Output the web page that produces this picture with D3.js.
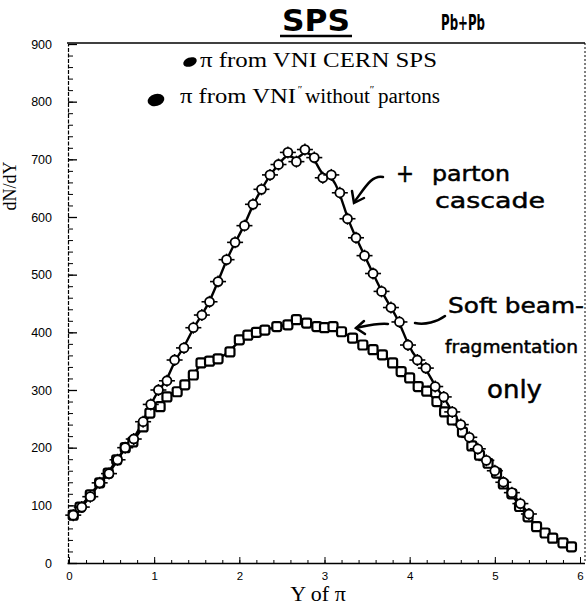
<!DOCTYPE html>
<html>
<head>
<meta charset="utf-8">
<script src="https://cdn.jsdelivr.net/npm/d3@7"></script>
<style>
body { margin: 0; background: #fff; }
</style>
</head>
<body>
<svg id="chart" width="588" height="614"></svg>
<script>

// "pi from VNI CERN SPS" (with parton cascade), open circles
const rapPartons = [0.05,0.15,0.25,0.36,0.47,0.57,0.66,0.76,0.87,0.96,1.05,1.15,1.24,1.35,1.46,1.56,1.65,1.75,1.85,1.95,
    2.06,2.16,2.26,2.36,2.46,2.57,2.67,2.77,2.88,2.98,3.08,3.18,3.27,3.37,3.47,3.57,3.67,3.78,3.88,3.98,
    4.09,4.19,4.30,4.40,4.50,4.60,4.70,4.80,4.90,5.00,5.10,5.20,5.30,5.40];
const dndyPartons = [83,97,115,139,155,179,200,215,245,275,300,316,352,373,408,430,453,488,526,556,
    585,622,648,673,691,712,696,717,703,668,673,642,597,564,533,502,471,443,418,378,
    352,338,306,288,262,240,218,198,178,160,140,122,103,85];

// "pi from VNI without partons" (soft beam fragmentation only), open squares
const rapSoft = [0.05,0.13,0.25,0.36,0.46,0.56,0.66,0.75,0.87,0.95,1.07,1.15,1.27,1.36,1.46,1.55,1.65,1.75,1.89,2.00,
    2.10,2.20,2.30,2.44,2.57,2.67,2.79,2.91,3.00,3.10,3.20,3.33,3.45,3.57,3.68,3.80,3.90,4.00,4.10,4.20,
    4.32,4.41,4.50,4.62,4.73,4.82,4.92,5.02,5.10,5.20,5.29,5.39,5.49,5.59,5.68,5.80,5.90];
const dndySoft = [83,97,118,139,156,179,200,210,236,260,271,288,297,309,326,347,350,354,366,387,
    395,400,404,410,413,422,416,410,408,410,401,390,378,370,361,347,332,321,306,298,
    280,262,248,227,203,187,173,156,137,120,98,80,63,52,43,35,28];

const xTicks = [0,1,2,3,4,5,6];
const yTicks = [0,100,200,300,400,500,600,700,800,900];
const legendLabels = ['\u03c0 from VNI CERN SPS', '\u03c0 from VNI', 'without', 'partons'];
const noteCascade = ['+', 'parton', 'cascade'];
const noteSoft = ['Soft beam-', 'fragmentation', 'only'];
const titleParts = ['SPS', 'Pb+Pb'];

const svg = d3.select('#chart');
const x = d3.scaleLinear().domain([0, 6]).range([69, 580]);
const y = d3.scaleLinear().domain([0, 900]).range([563, 44]);

const serif = '"Liberation Serif", "DejaVu Serif", serif';
const sans = '"Liberation Sans", Arial, sans-serif';
const hand = '"DejaVu Sans", sans-serif';

// frame: top line and dotted right edge
svg.append('line').attr('x1', 67).attr('x2', 585).attr('y1', 43).attr('y2', 43)
    .attr('stroke', '#000').attr('stroke-width', 1.5);
svg.append('line').attr('x1', 585).attr('x2', 585).attr('y1', 43).attr('y2', 563)
    .attr('stroke', '#000').attr('stroke-width', 1).attr('stroke-dasharray', '2,2');

// y axis, ticks point into the plot
let yAxis = svg.append('g').attr('transform', 'translate(68,0)')
    .call(d3.axisLeft(y).tickValues(yTicks).tickSizeInner(-9).tickSizeOuter(0).tickPadding(16));
yAxis.select('.domain').attr('stroke-dasharray', '4,1.5').attr('stroke-width', 1.2);
yAxis.selectAll('text').attr('font-family', sans).attr('font-size', 12.5);
yAxis.selectAll('line').attr('stroke-width', 1.3);
svg.append('g').attr('transform', 'translate(68,0)')
    .call(d3.axisLeft(y).tickValues(d3.range(0, 901, 20)).tickSize(-5).tickFormat(''))
    .call(g => g.select('.domain').remove());

// x axis
let xAxis = svg.append('g').attr('transform', 'translate(0,563)')
    .call(d3.axisBottom(x).tickValues(xTicks).tickFormat(d3.format('d'))
        .tickSizeInner(-6).tickSizeOuter(0).tickPadding(9));
xAxis.select('.domain').attr('stroke-width', 1.6).attr('d', 'M67.5,0.5H585');
xAxis.selectAll('text').attr('font-family', sans).attr('font-size', 11.5);
svg.append('g').attr('transform', 'translate(0,563)')
    .call(d3.axisBottom(x).tickValues(d3.range(0, 6.01, 0.2)).tickSize(-3).tickFormat(''))
    .call(g => g.select('.domain').remove());

// axis titles
svg.append('text').attr('transform', 'translate(16,186) rotate(-90)')
    .attr('text-anchor', 'middle').attr('font-family', serif).attr('font-size', 18)
    .text('dN/dY');
svg.append('text').attr('x', 318).attr('y', 601).attr('text-anchor', 'middle')
    .attr('font-family', serif).attr('font-size', 22).text('Y of \u03c0');

// smooth curves through both sets of points
const line = d3.line().curve(d3.curveBasis).x(d => x(d[0])).y(d => y(d[1]));
const partons = d3.zip(rapPartons, dndyPartons);
const soft = d3.zip(rapSoft, dndySoft);

svg.append('path').datum(soft).attr('d', line)
    .attr('fill', 'none').attr('stroke', '#000').attr('stroke-width', 2.4);
svg.append('path').datum(partons).attr('d', line)
    .attr('fill', 'none').attr('stroke', '#000').attr('stroke-width', 2.4);

// squares
svg.append('g').selectAll('rect').data(soft).enter().append('rect')
    .attr('x', d => x(d[0]) - 4.5).attr('y', d => y(d[1]) - 4.5)
    .attr('width', 9).attr('height', 9).attr('rx', 2)
    .attr('fill', '#fff').attr('stroke', '#000').attr('stroke-width', 2.2);

// circles with small error bars
let pts = svg.append('g').selectAll('g').data(partons).enter().append('g')
    .attr('transform', d => `translate(${x(d[0])},${y(d[1])})`);
pts.append('line').attr('x1', -8).attr('x2', 8).attr('stroke', '#000').attr('stroke-width', 1.6);
pts.append('line').attr('y1', -6).attr('y2', 6).attr('stroke', '#000').attr('stroke-width', 1.4);
pts.append('circle').attr('r', 4.5).attr('fill', '#fff').attr('stroke', '#000').attr('stroke-width', 1.8);

// legend
svg.append('ellipse').attr('cx', 190).attr('cy', 62).attr('rx', 7).attr('ry', 4.5)
    .attr('transform', 'rotate(-20,190,62)').attr('fill', '#000');
svg.append('text').attr('x', 200).attr('y', 67).attr('font-family', serif).attr('font-size', 20)
    .attr('textLength', 237).attr('lengthAdjust', 'spacingAndGlyphs').text(legendLabels[0]);

svg.append('ellipse').attr('cx', 156).attr('cy', 100).attr('rx', 8.5).attr('ry', 6)
    .attr('transform', 'rotate(-15,156,100)').attr('fill', '#000');
let leg2 = svg.append('text').attr('y', 103).attr('font-family', serif).attr('font-size', 20);
leg2.append('tspan').attr('x', 180).attr('textLength', 116).attr('lengthAdjust', 'spacingAndGlyphs').text(legendLabels[1]);
leg2.append('tspan').attr('x', 297).attr('dy', -10).attr('font-size', 11).attr('font-style', 'italic').text('\u2033');
leg2.append('tspan').attr('x', 305).attr('dy', 10).attr('textLength', 65).attr('lengthAdjust', 'spacingAndGlyphs').text(legendLabels[2]);
leg2.append('tspan').attr('x', 369).attr('dy', -10).attr('font-size', 11).attr('font-style', 'italic').text('\u2033');
leg2.append('tspan').attr('x', 378).attr('dy', 10).attr('textLength', 62).attr('lengthAdjust', 'spacingAndGlyphs').text(legendLabels[3]);

// handwritten title
svg.append('text').attr('x', 282).attr('y', 31).attr('font-family', hand).attr('font-weight', 'bold')
    .attr('font-size', 30).attr('textLength', 68).attr('lengthAdjust', 'spacingAndGlyphs').text(titleParts[0]);
svg.append('line').attr('x1', 280).attr('x2', 352).attr('y1', 36).attr('y2', 36)
    .attr('stroke', '#000').attr('stroke-width', 2.5);
svg.append('text').attr('x', 441).attr('y', 30).attr('font-family', hand).attr('font-weight', 'bold')
    .attr('font-size', 21).attr('textLength', 44).attr('lengthAdjust', 'spacingAndGlyphs').text(titleParts[1]);

// handwritten notes
let note = (t, x0, y0, size, len) => svg.append('text').attr('x', x0).attr('y', y0)
    .attr('font-family', hand).attr('font-size', size).attr('stroke', '#000').attr('stroke-width', 0.5)
    .attr('textLength', len).attr('lengthAdjust', 'spacingAndGlyphs').text(t);

note(noteCascade[0], 396, 182, 24, 18);
note(noteCascade[1], 432, 181, 21, 78);
note(noteCascade[2], 435, 208, 22, 110);
note(noteSoft[0], 448, 313, 22, 136);
note(noteSoft[1], 445, 353, 18.5, 133);
note(noteSoft[2], 487, 398, 25, 55);

let pen = svg.append('g').attr('fill', 'none').attr('stroke', '#000').attr('stroke-width', 2.5)
    .attr('stroke-linecap', 'round');
pen.append('path').attr('d', 'M383,177 C372,175 366,186 355,201');
pen.append('path').attr('d', 'M352,191 L354,203 L364,198');
pen.append('path').attr('d', 'M415,323 C425,325 437,322 445,316');
pen.append('path').attr('d', 'M388,324 C376,323 366,326 356,328');
pen.append('path').attr('d', 'M364,321 L356,328 L365,334');
</script>
</body>
</html>
